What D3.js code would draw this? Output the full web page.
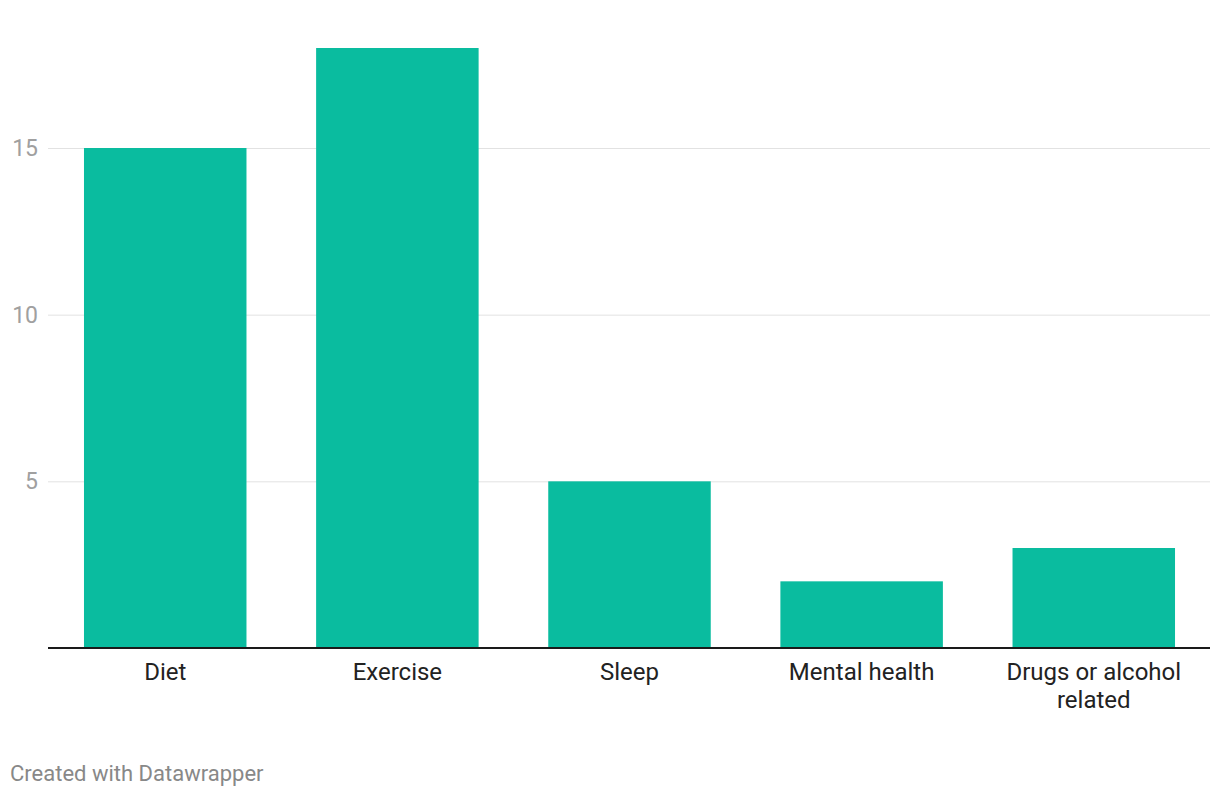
<!DOCTYPE html>
<html><head><meta charset="utf-8">
<script src="https://cdn.jsdelivr.net/npm/d3@7"></script>
<style>
body{margin:0;background:#fff;font-family:Roboto,"Noto Sans",sans-serif;}
</style></head>
<body><svg id="c" width="1220" height="796"></svg>
<script>
const categories = ["Diet","Exercise","Sleep","Mental health","Drugs or alcohol related"];
const values = [15,18,5,2,3];
const yTicks = [5,10,15];
const labelLines = [["Diet"],["Exercise"],["Sleep"],["Mental health"],["Drugs or alcohol","related"]];

(function(){
const svg = d3.select("#c");
const mLeft = 48, mRight = 1210, mTop = 48, mBottom = 648;
const x = d3.scaleBand().domain(categories).range([mLeft,1211]).paddingInner(0.3).paddingOuter(0.155);
const y = d3.scaleLinear().domain([0,18]).range([mBottom,mTop]);

// grid
svg.append("g").selectAll("line").data(yTicks).join("line")
  .attr("x1",mLeft).attr("x2",mRight)
  .attr("y1",d=>y(d)+0.5).attr("y2",d=>y(d)+0.5)
  .attr("stroke","#e2e2e2").attr("stroke-width",1);
svg.append("g").selectAll("text").data(yTicks).join("text")
  .attr("x",38).attr("y",d=>y(d)).attr("dy","0.35em")
  .attr("text-anchor","end").attr("fill","#a0a0a0")
  .attr("font-size",23).text(d=>d);

// bars
svg.append("g").selectAll("rect").data(values).join("rect")
  .attr("x",(d,i)=>x(categories[i])).attr("width",x.bandwidth())
  .attr("y",d=>y(d)).attr("height",d=>y(0)-y(d))
  .attr("fill","#0abc9f");

// baseline
svg.append("line").attr("x1",mLeft).attr("x2",mRight)
  .attr("y1",y(0)).attr("y2",y(0)).attr("stroke","#1a1a1a").attr("stroke-width",2);

// x labels
const lg = svg.append("g").selectAll("text").data(categories).join("text")
  .attr("x",d=>x(d)+x.bandwidth()/2).attr("y",680)
  .attr("text-anchor","middle").attr("fill","#222").attr("font-size",24);
lg.each(function(d,i){
  const t=d3.select(this);
  labelLines[i].forEach((l,j)=>{
    t.append("tspan").attr("x",x(d)+x.bandwidth()/2).attr("dy",j===0?0:28).text(l);
  });
});

svg.append("text").attr("x",10).attr("y",781).attr("fill","#888")
  .attr("font-size",22).text("Created with Datawrapper");
})();
</script></body></html>
